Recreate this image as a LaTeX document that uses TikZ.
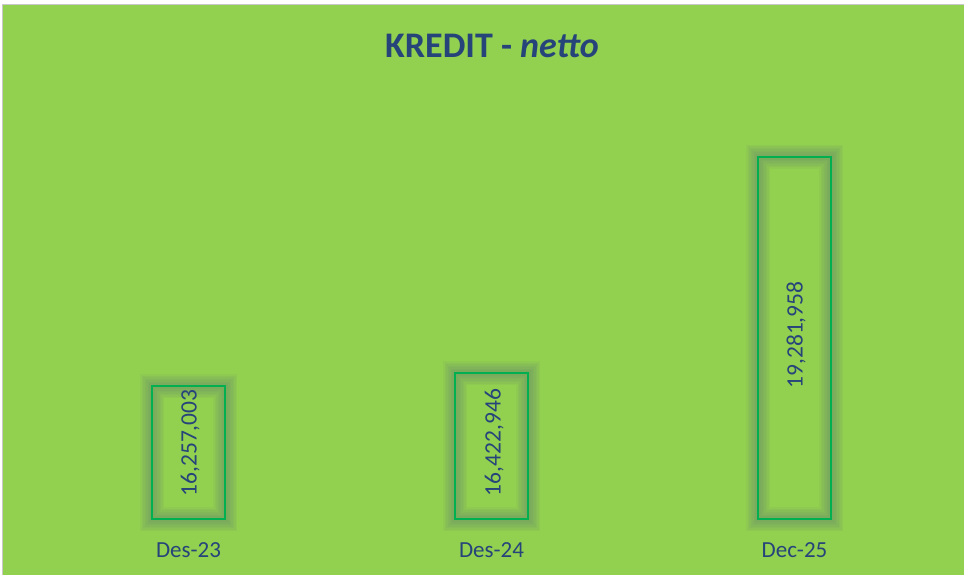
\documentclass[tikz,border=0pt]{standalone}
\usepackage{fontspec}
\setmainfont{Carlito}
\definecolor{bg}{RGB}{146,208,80}
\definecolor{frame}{RGB}{200,200,200}
\definecolor{txt}{RGB}{38,68,122}
\definecolor{barline}{RGB}{0,176,80}
\definecolor{glowc}{RGB}{95,125,115}
\tikzset{
  glowlayer/.style={draw=glowc, draw opacity=0.075, line width=#1},
  barbox/.style={draw=barline, line width=2.4pt},
  vallabel/.style={text=txt, font=\fontsize{23.5}{28}\selectfont, rotate=90, anchor=base, inner sep=0pt},
  catlabel/.style={text=txt, font=\fontsize{23}{28}\selectfont, anchor=base, inner sep=0pt},
  titlelabel/.style={text=txt, font=\fontsize{36}{42}\selectfont\bfseries, anchor=base, inner sep=0pt}
}
\newcommand{\glowbar}[5]{%
  \foreach \w in {24,21,18,15,12,9,6}{\draw[glowlayer=\w pt] (#1,#2) rectangle (#3,#4);}
  \draw[barbox] (#1,#2) rectangle (#3,#4) node[coordinate] (#5) {};
}
\begin{document}
\begin{tikzpicture}[x=1pt,y=-1pt]
\useasboundingbox (0,0) rectangle (964,575);
\fill[white] (0,0) rectangle (964,575);
\fill[bg] (2,4) rectangle (964,575);
\draw[frame, line width=1.2pt] (2.5,575) -- (2.5,4.5) -- (964,4.5);
\begin{scope}
\clip (3,5) rectangle (964,575);
\glowbar{152}{386}{225}{519}{b1}
\glowbar{455}{373}{528}{519}{b2}
\glowbar{758}{157}{831}{519}{b3}
\end{scope}
\node[vallabel] (v1) at (196.7,443) {16,257,003};
\node[vallabel] (v2) at (500.7,442.5) {16,422,946};
\node[vallabel] (v3) at (802.7,335) {19,281,958};
\node[catlabel] (c1) at (188.5,557) {Des-23};
\node[catlabel] (c2) at (491.5,557) {Des-24};
\node[catlabel] (c3) at (794.5,557) {Dec-25};
\node[titlelabel] (t) at (492,58) {KREDIT - \textit{netto}};
\end{tikzpicture}
\end{document}
